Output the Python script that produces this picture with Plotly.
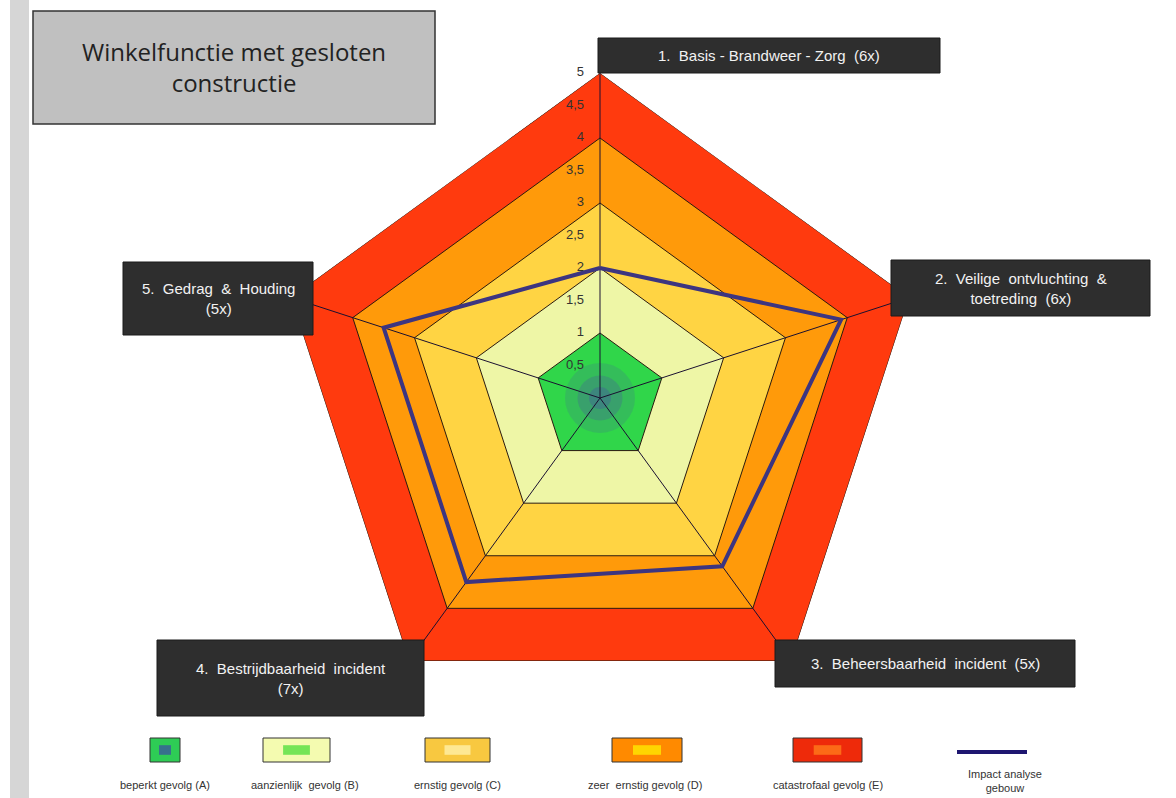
import plotly.graph_objects as go

W, H = 1176, 798
NB = "\u00a0"

# ---------------- data ----------------
categories = [
    "1. Basis - Brandweer - Zorg (6x)",
    "2. Veilige ontvluchting & toetreding (6x)",
    "3. Beheersbaarheid incident (5x)",
    "4. Bestrijdbaarheid incident (7x)",
    "5. Gedrag & Houding (5x)",
]
band_levels = [5, 4, 3, 2, 1]
band_names = ["catastrofaal gevolg (E)", "zeer  ernstig gevolg (D)", "ernstig gevolg (C)",
              "aanzienlijk  gevolg (B)", "beperkt gevolg (A)"]
impact_values = [2.0, 3.9, 3.2, 3.5, 3.5]
impact_name = "Impact analyse gebouw"
radial_ticks = [0, 0.5, 1, 1.5, 2, 2.5, 3, 3.5, 4, 4.5, 5]
radial_tick_labels = ["0", "0,5", "1", "1,5", "2", "2,5", "3", "3,5", "4", "4,5", "5"]
axis_box_texts = [
    "1.  Basis - Brandweer - Zorg  (6x)",
    "2.  Veilige  ontvluchting  &<br>toetreding  (6x)",
    "3.  Beheersbaarheid  incident  (5x)",
    "4.  Bestrijdbaarheid  incident<br>(7x)",
    "5.  Gedrag  &  Houding<br>(5x)",
]
title_text = "Winkelfunctie met gesloten<br>constructie"

# ---------------- styles ----------------
band_colors = ["#FF3A0E", "#FF9A0A", "#FFD443", "#EEF6A6", "#30D64A"]
impact_color = "#3D3580"

def px_x(x):
    return x / W

def px_y(y):
    return 1 - y / H

def nb(s):
    return s.replace("  ", NB + NB)

fig = go.Figure()

closed_theta = categories + [categories[0]]

for lvl, name, col in zip(band_levels, band_names, band_colors):
    fig.add_trace(go.Scatterpolar(
        r=[lvl] * len(categories) + [lvl], theta=closed_theta,
        mode="lines", fill="toself", fillcolor=col,
        line=dict(color="#2a1a10", width=1), name=name, showlegend=False,
        hoverinfo="skip"))

# soft bluish centre glow
for size, alpha in [(70, 0.18), (45, 0.25), (22, 0.3)]:
    fig.add_trace(go.Scatterpolar(
        r=[0.001], theta=[categories[0]], mode="markers", cliponaxis=False,
        marker=dict(size=size, color=f"rgba(70,75,165,{alpha})", line=dict(width=0)),
        showlegend=False, hoverinfo="skip"))

# spokes
for c in categories:
    fig.add_trace(go.Scatterpolar(
        r=[0, band_levels[0]], theta=[c, c], mode="lines",
        line=dict(color="#1a1030", width=1), showlegend=False, hoverinfo="skip"))

fig.add_trace(go.Scatterpolar(
    r=impact_values + [impact_values[0]], theta=closed_theta, mode="lines",
    line=dict(color=impact_color, width=4), name=impact_name, showlegend=False))

# radial tick labels as text beside the first spoke
fig.add_trace(go.Scatterpolar(
    r=radial_ticks, theta=[categories[0]] * len(radial_ticks), mode="markers+text",
    marker=dict(size=24, color="rgba(0,0,0,0)"),
    text=radial_tick_labels, textposition="middle left", cliponaxis=False,
    textfont=dict(size=13, color="#333333"), showlegend=False, hoverinfo="skip"))

cx, cy, R = 600, 398, 325
fig.update_layout(
    width=W, height=H,
    margin=dict(l=0, r=0, t=0, b=0),
    paper_bgcolor="white",
    plot_bgcolor="white",
    showlegend=False,
    font=dict(family="Liberation Sans, Arial, sans-serif"),
    polar=dict(
        domain=dict(x=[px_x(cx - R), px_x(cx + R)], y=[px_y(cy + R), px_y(cy - R)]),
        bgcolor="rgba(0,0,0,0)",
        gridshape="linear",
        angularaxis=dict(direction="clockwise", rotation=90, showticklabels=False,
                         showgrid=False, showline=False, ticks=""),
        radialaxis=dict(range=[0, 5], angle=90, showticklabels=False,
                        showgrid=False, showline=False, ticks=""),
    ),
)

shapes = []
annotations = []

# left grey strip
shapes.append(dict(type="rect", xref="paper", yref="paper",
                   x0=px_x(10), x1=px_x(29), y0=0, y1=1,
                   fillcolor="#D6D6D6", line=dict(width=0), layer="below"))

# title box
shapes.append(dict(type="rect", xref="paper", yref="paper",
                   x0=px_x(33), x1=px_x(435), y0=px_y(124), y1=px_y(11),
                   fillcolor="#C0C0C0", line=dict(color="#333333", width=1.5)))
annotations.append(dict(text=title_text, x=px_x(234), y=px_y(67), xref="paper", yref="paper",
                        xanchor="center", yanchor="middle",
                        showarrow=False, font=dict(size=24, color="#222222",
                                                   family="Open Sans, Liberation Sans, sans-serif"),
                        align="center"))

# axis label boxes (pixel rects: x0, y0, x1, y1)
box_rects = [
    (598, 38, 940, 73),
    (891, 260, 1150, 316),
    (775, 640, 1075, 687),
    (157, 640, 424, 716),
    (123, 262, 313, 335),
]
for (x0, y0, x1, y1), txt in zip(box_rects, axis_box_texts):
    shapes.append(dict(type="rect", xref="paper", yref="paper",
                       x0=px_x(x0), x1=px_x(x1), y0=px_y(y1), y1=px_y(y0),
                       fillcolor="#2E2E2E", line=dict(color="#1a1a1a", width=1)))
    annotations.append(dict(text=nb(txt), x=px_x((x0 + x1) / 2), y=px_y((y0 + y1) / 2),
                            xanchor="center", yanchor="middle",
                            xref="paper", yref="paper", showarrow=False, align="center",
                            font=dict(size=15, color="#F2F2F2")))

# legend swatches
legend_swatches = [
    (150, 738, 180, 762, "#2ECC55", "#3A5A9A"),
    (263, 738, 330, 762, "#F4FBB0", "#55E040"),
    (425, 738, 490, 762, "#F8C840", "#FFF0A8"),
    (612, 738, 682, 762, "#FF8A00", "#FFE800"),
    (793, 738, 862, 762, "#EE2A0A", "#FF7A1A"),
]
legend_label_x = [165, 305, 457, 645, 828]
legend_labels = band_names[::-1]
for (x0, y0, x1, y1, outer, inner), lx, lab in zip(legend_swatches, legend_label_x, legend_labels):
    shapes.append(dict(type="rect", xref="paper", yref="paper",
                       x0=px_x(x0), x1=px_x(x1), y0=px_y(y1), y1=px_y(y0),
                       fillcolor=outer, line=dict(color="#333333", width=1)))
    ix = (x1 - x0) * 0.3
    iy = (y1 - y0) * 0.3
    shapes.append(dict(type="rect", xref="paper", yref="paper",
                       x0=px_x(x0 + ix), x1=px_x(x1 - ix), y0=px_y(y1 - iy), y1=px_y(y0 + iy),
                       fillcolor=inner, line=dict(width=0), opacity=0.8))
    annotations.append(dict(text=nb(lab), x=px_x(lx), y=px_y(785), xref="paper", yref="paper",
                            xanchor="center", yanchor="middle",
                            showarrow=False, font=dict(size=11, color="#333333",
                                                       family="Liberation Sans Narrow, Liberation Sans, Arial")))

# impact legend line
shapes.append(dict(type="line", xref="paper", yref="paper",
                   x0=px_x(957), x1=px_x(1027), y0=px_y(752), y1=px_y(752),
                   line=dict(color="#1E1670", width=4)))
annotations.append(dict(text="Impact analyse<br>gebouw", x=px_x(1005), y=px_y(781),
                        xanchor="center", yanchor="middle",
                        xref="paper", yref="paper", showarrow=False,
                        font=dict(size=11, color="#333333",
                                  family="Liberation Sans Narrow, Liberation Sans, Arial")))

fig.update_layout(shapes=shapes, annotations=annotations)
fig.write_html("out.html")
